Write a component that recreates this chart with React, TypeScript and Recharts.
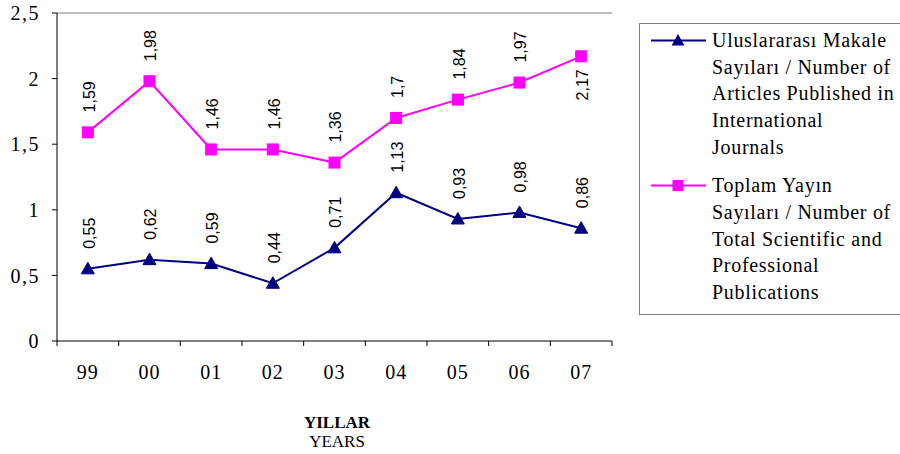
import React from 'react';
import { LineChart, Line, XAxis, YAxis, ReferenceLine, LabelList, Legend } from 'recharts';

const years = ['99', '00', '01', '02', '03', '04', '05', '06', '07'];
const intlArticles = [0.55, 0.62, 0.59, 0.44, 0.71, 1.13, 0.93, 0.98, 0.86];
const totalPubs = [1.59, 1.98, 1.46, 1.46, 1.36, 1.7, 1.84, 1.97, 2.17];
const yTicks = [0, 0.5, 1, 1.5, 2, 2.5];
const intlNameLines = ['Uluslararası Makale', 'Sayıları / Number of', 'Articles Published in', 'International', 'Journals'];
const totalNameLines = ['Toplam Yayın', 'Sayıları / Number of', 'Total Scientific and', 'Professional', 'Publications'];
const axisTitle = 'YILLAR';
const axisSubtitle = 'YEARS';

const NAVY = '#000080';
const PINK = '#FF00FF';
const SERIF = "'Liberation Serif', 'Times New Roman', 'DejaVu Serif', serif";
const SANS = "'Liberation Sans', Arial, sans-serif";

const data = years.map((y, i) => ({ year: y, intl: intlArticles[i], total: totalPubs[i] }));

const fmt = (v: number) => String(v).replace('.', ',');

const TriangleDot = (props: any) => {
  const { cx, cy } = props;
  if (cx == null || cy == null) return null;
  return <polygon points={`${cx},${cy - 6.5} ${cx - 6.5},${cy + 5} ${cx + 6.5},${cy + 5}`} fill={NAVY} stroke={NAVY} />;
};

const SquareDot = (props: any) => {
  const { cx, cy } = props;
  if (cx == null || cy == null) return null;
  return <rect x={cx - 5.5} y={cy - 5.5} width={11} height={11} fill={PINK} stroke={PINK} />;
};

const ValueLabel = (props: any) => {
  const { x, y, value } = props;
  if (x == null || y == null) return null;
  const below = value > 2.1;
  const ax = x + 7;
  const ay = below ? y + 13 : y - 20;
  return (
    <text
      x={ax}
      y={ay}
      transform={`rotate(-90 ${ax} ${ay})`}
      textAnchor={below ? 'end' : 'start'}
      style={{ fontFamily: SANS, fontSize: 16 }}
      fill="#000"
    >
      {fmt(value)}
    </text>
  );
};

const YTick = (props: any) => {
  const { x, y, payload } = props;
  return (
    <text x={x} y={y} dy="0.355em" textAnchor="end" style={{ fontFamily: SERIF, fontSize: 20, letterSpacing: 1.5 }} fill="#000">
      {fmt(payload.value)}
    </text>
  );
};

const XTick = (props: any) => {
  const { x, y, payload, index, visibleTicksCount } = props;
  const half = payload && payload.offset ? payload.offset : 30.8;
  const last = index === (visibleTicksCount ?? years.length) - 1;
  return (
    <g>
      <line x1={x - half} y1={y} x2={x - half} y2={y + 5} stroke="#000" />
      {last && <line x1={x + half} y1={y} x2={x + half} y2={y + 5} stroke="#000" />}
      <text x={x} y={y + 38} textAnchor="middle" style={{ fontFamily: SERIF, fontSize: 20, letterSpacing: 1 }} fill="#000">
        {payload.value}
      </text>
    </g>
  );
};

const LegendEntry = ({ color, lines, marker }: { color: string; lines: string[]; marker: 'tri' | 'sq' }) => (
  <div style={{ position: 'relative' }}>
    <svg width={60} height={27} style={{ position: 'absolute', left: 10, top: 0 }}>
      <line x1={1} y1={13.5} x2={56} y2={13.5} stroke={color} strokeWidth={2} />
      {marker === 'tri' ? (
        <polygon points={`28,7 21.5,18.5 34.5,18.5`} fill={color} />
      ) : (
        <rect x={22.5} y={8} width={11} height={11} fill={color} />
      )}
    </svg>
    <div style={{ marginLeft: 72 }}>
      {lines.map((l, i) => (
        <div key={i} style={{ height: 26.7, lineHeight: '26.7px', whiteSpace: 'nowrap' }}>
          {l}
        </div>
      ))}
    </div>
  </div>
);

const LegendContent = () => (
  <div
    style={{
      boxSizing: 'border-box',
      width: 262,
      height: 292,
      border: '1px solid #808080',
      paddingTop: 3,
      fontFamily: SERIF,
      fontSize: 20,
      letterSpacing: 0.7,
      color: '#000',
      background: '#fff',
      textAlign: 'left',
    }}
  >
    <LegendEntry color={NAVY} lines={intlNameLines} marker="tri" />
    <div style={{ height: 11.7 }} />
    <LegendEntry color={PINK} lines={totalNameLines} marker="sq" />
  </div>
);

const AxisTitle = () => (
  <g>
    <text x={337} y={428} textAnchor="middle" style={{ fontFamily: SERIF, fontSize: 17, fontWeight: 'bold' }} fill="#000">
      {axisTitle}
    </text>
    <text x={337} y={447} textAnchor="middle" style={{ fontFamily: SERIF, fontSize: 17 }} fill="#000">
      {axisSubtitle}
    </text>
  </g>
);

export default function App() {
  return (
    <div style={{ position: 'absolute', left: 0, top: 0, width: 900, height: 454, background: '#fff' }}>
      <style>{'body{margin:0;overflow:hidden;background:#fff}'}</style>
      <LineChart width={900} height={454} data={data} margin={{ top: 13, right: 288, bottom: 83, left: 0 }}>
        <XAxis
          dataKey="year"
          scale="band"
          type="category"
          height={30}
          axisLine={{ stroke: '#000' }}
          tickLine={false}
          tickSize={0}
          tickMargin={0}
          interval={0}
          tick={<XTick />}
          label={{ content: () => <AxisTitle /> }}
        />
        <YAxis
          domain={[0, 2.5]}
          ticks={yTicks}
          width={57}
          axisLine={{ stroke: '#000' }}
          tickLine={{ stroke: '#000' }}
          tickSize={5}
          tickMargin={12}
          tick={<YTick />}
          interval={0}
        />
        <YAxis
          yAxisId="r"
          orientation="right"
          domain={[0, 2.5]}
          width={0}
          tick={false}
          tickLine={false}
          axisLine={{ stroke: '#808080' }}
        />
        <ReferenceLine y={2.5} stroke="#808080" />
        <Legend
          layout="horizontal"
          align="center"
          verticalAlign="middle"
          content={() => <LegendContent />}
          wrapperStyle={{ position: 'absolute', left: 639, top: 23, width: 262, height: 292 }}
        />
        <Line
          name="Uluslararası Makale Sayıları / Number of Articles Published in International Journals"
          dataKey="intl"
          stroke={NAVY}
          strokeWidth={2}
          dot={<TriangleDot />}
          activeDot={false}
          isAnimationActive={false}
        >
          <LabelList dataKey="intl" content={<ValueLabel />} />
        </Line>
        <Line
          name="Toplam Yayın Sayıları / Number of Total Scientific and Professional Publications"
          dataKey="total"
          stroke={PINK}
          strokeWidth={2}
          dot={<SquareDot />}
          activeDot={false}
          isAnimationActive={false}
        >
          <LabelList dataKey="total" content={<ValueLabel />} />
        </Line>
      </LineChart>
    </div>
  );
}
